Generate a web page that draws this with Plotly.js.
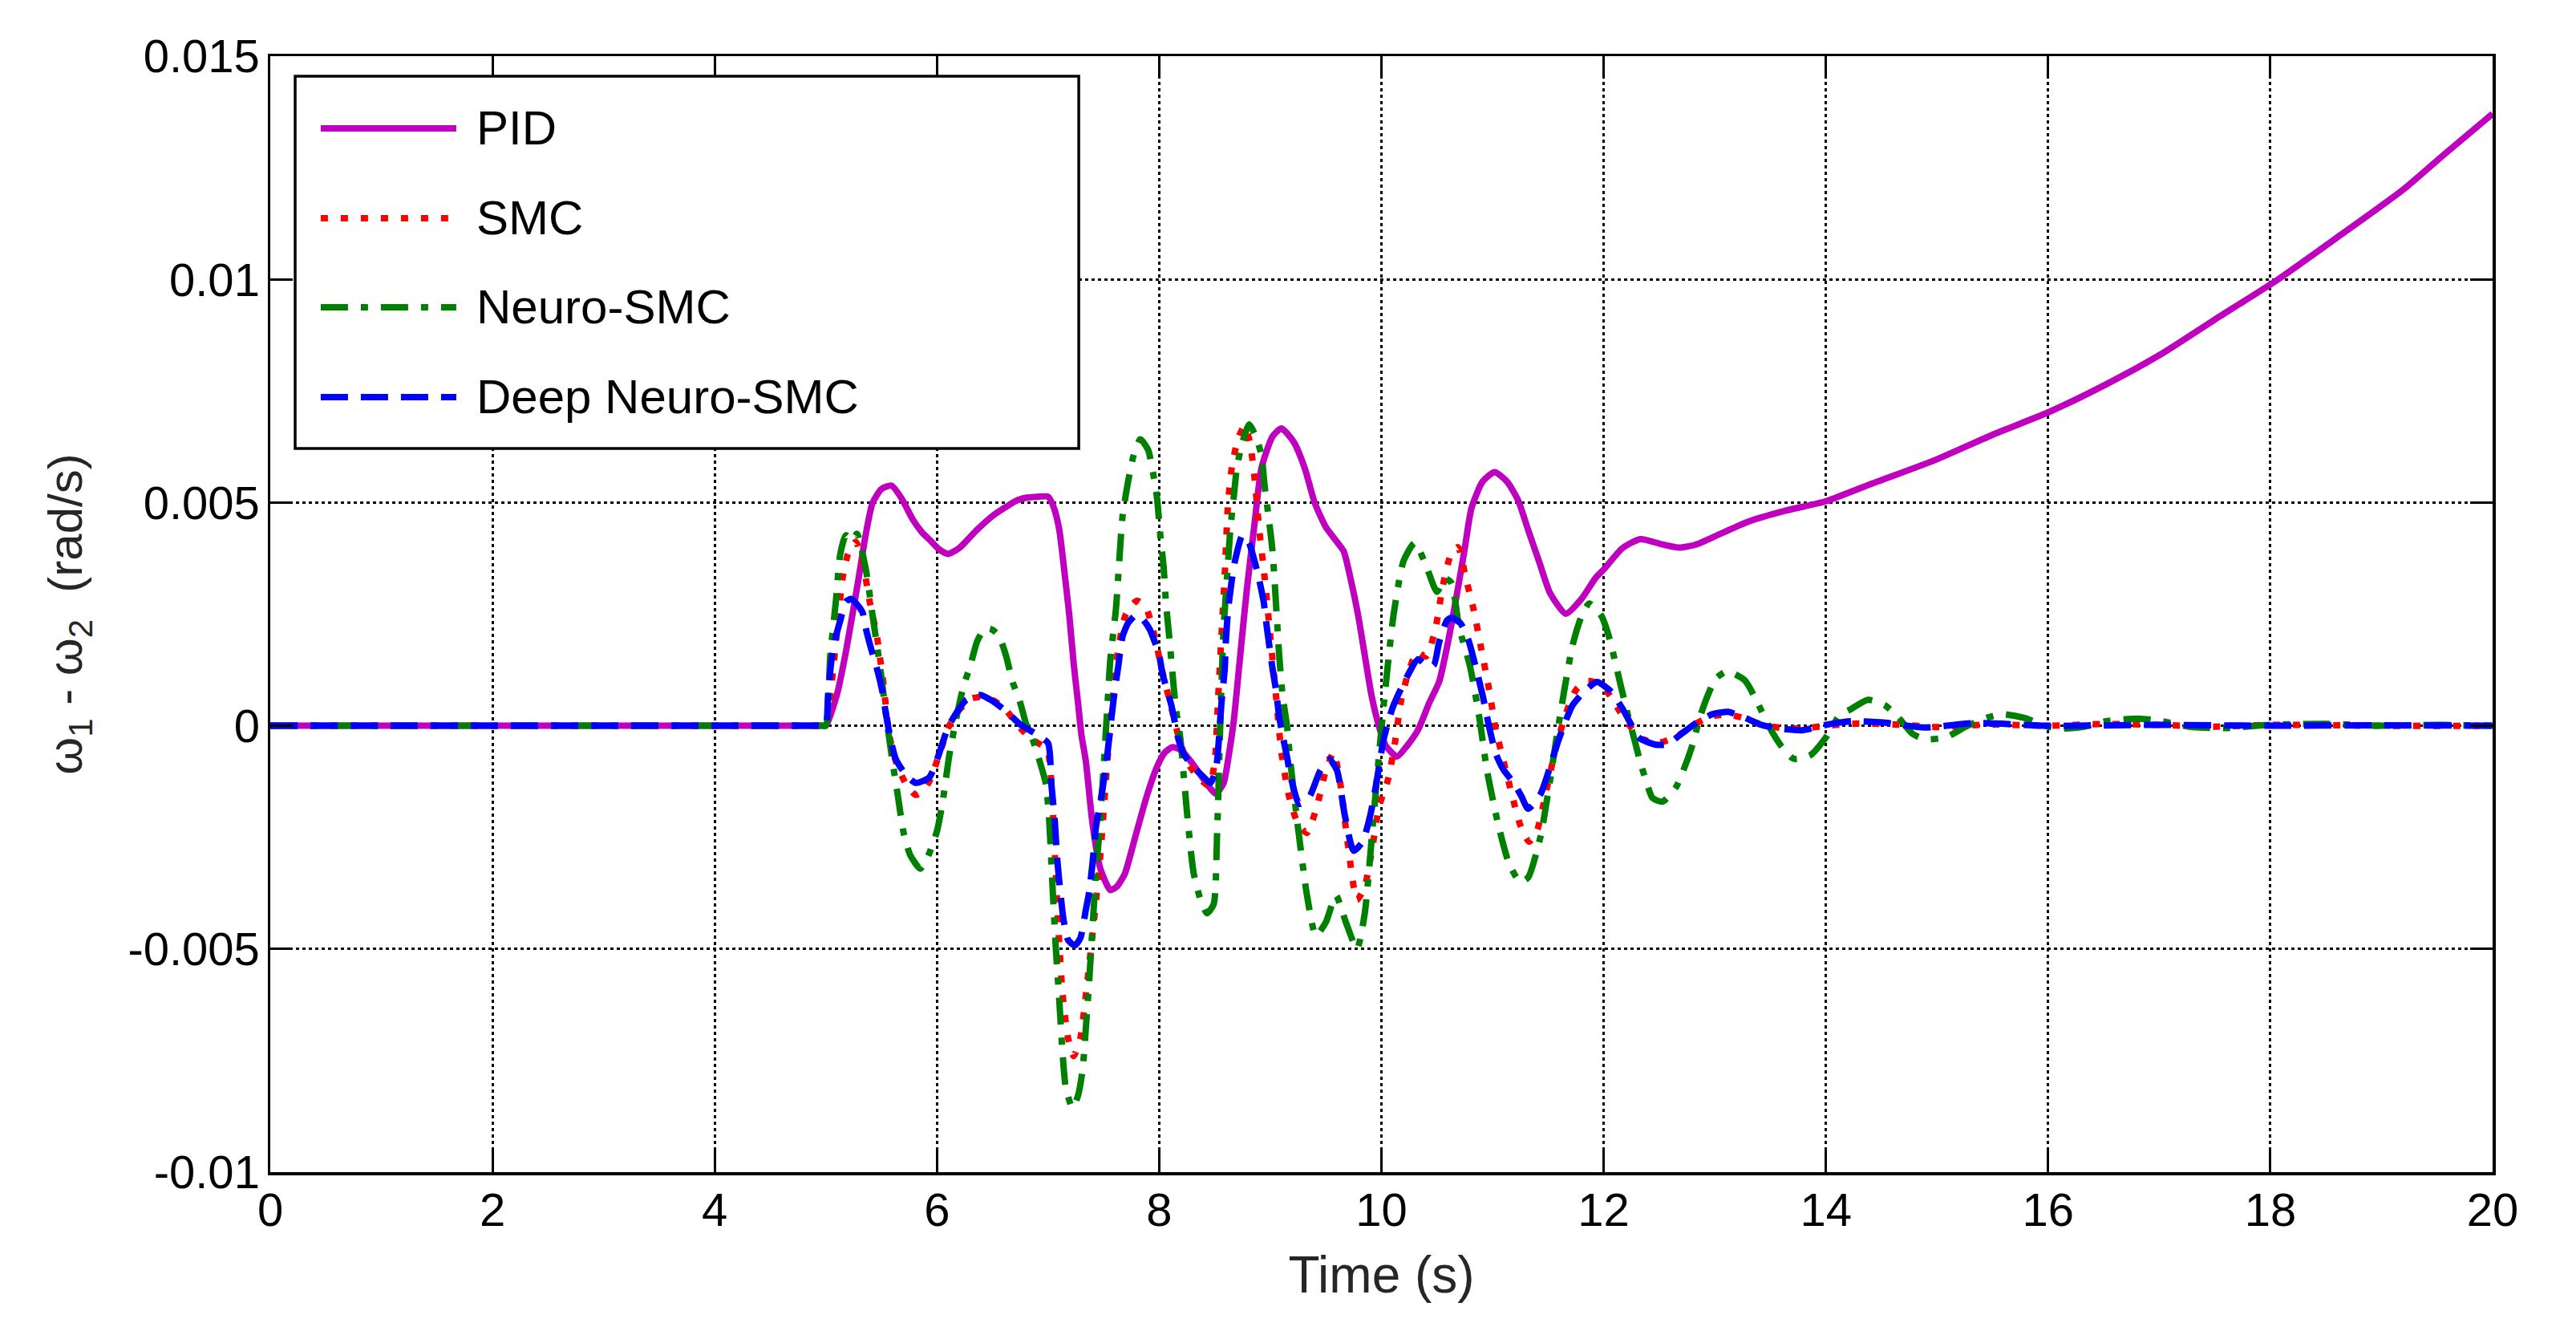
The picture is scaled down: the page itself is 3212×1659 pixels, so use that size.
<!DOCTYPE html>
<html>
<head>
<meta charset="utf-8">
<script src="https://cdn.plot.ly/plotly-3.0.1.min.js"></script>
<style>html,body{margin:0;padding:0;background:#fff;}#chart{width:3212px;height:1659px;}</style>
</head>
<body>
<div id="chart"></div>
<script>
// ---------------- data (time in s, value in rad/s) ----------------
const seriesNames = ['PID', 'SMC', 'Neuro-SMC', 'Deep Neuro-SMC'];

const timePID = [0, 1, 2, 3, 4, 4.9, 4.97, 5.0, 5.1, 5.17, 5.24, 5.3, 5.36, 5.42, 5.5, 5.59,
  5.68, 5.78, 5.86, 5.94, 6.02, 6.1, 6.2, 6.36, 6.5, 6.62,
  6.72, 6.81, 6.9, 7.0, 7.05, 7.1, 7.14, 7.19, 7.23, 7.27,
  7.3, 7.34, 7.4, 7.47, 7.56, 7.62, 7.69, 7.79, 7.89, 7.98,
  8.05, 8.12, 8.2, 8.3, 8.4, 8.51, 8.58, 8.63, 8.67, 8.71,
  8.75, 8.79, 8.86, 8.92, 9.02, 9.1, 9.21, 9.31, 9.4, 9.5,
  9.59, 9.66, 9.72, 9.79, 9.85, 9.91, 9.98, 10.04, 10.14, 10.23,
  10.33, 10.43, 10.52, 10.59, 10.68, 10.75, 10.81, 10.91, 11.02, 11.13,
  11.23, 11.32, 11.42, 11.52, 11.66, 11.8, 11.93, 12.0, 12.17, 12.33,
  12.53, 12.68, 12.83, 13.05, 13.31, 13.64, 14.0, 14.41, 14.97, 15.52,
  16.0, 16.5, 17.0, 17.5, 18.07, 18.63, 19.19, 19.56, 20.0];
const valuePID = [0, 0, 0, 0, 0, 0, 0, 0, 0.7e-3, 1.52e-3, 2.5e-3, 3.38e-3, 4.3e-3, 4.99e-3, 5.3e-3, 5.38e-3,
  5.1e-3, 4.63e-3, 4.35e-3, 4.15e-3, 3.95e-3, 3.85e-3, 3.98e-3, 4.39e-3, 4.7e-3, 4.9e-3,
  5.05e-3, 5.11e-3, 5.13e-3, 5.13e-3, 4.9e-3, 4.4e-3, 3.6e-3, 2.5e-3, 1.4e-3, 0.5e-3,
  -0.2e-3, -0.8e-3, -2.2e-3, -3.2e-3, -3.68e-3, -3.6e-3, -3.32e-3, -2.44e-3, -1.56e-3, -0.92e-3,
  -0.6e-3, -0.48e-3, -0.55e-3, -0.85e-3, -1.2e-3, -1.52e-3, -1.28e-3, -0.6e-3, 0.09e-3, 1.08e-3,
  2.1e-3, 3.08e-3, 4.57e-3, 5.77e-3, 6.48e-3, 6.66e-3, 6.36e-3, 5.77e-3, 4.99e-3, 4.45e-3,
  4.15e-3, 3.91e-3, 3.32e-3, 2.48e-3, 1.58e-3, 0.69e-3, -0.03e-3, -0.45e-3, -0.69e-3, -0.45e-3,
  -0.09e-3, 0.51e-3, 0.99e-3, 1.76e-3, 2.96e-3, 3.97e-3, 4.87e-3, 5.47e-3, 5.68e-3, 5.47e-3,
  5.05e-3, 4.39e-3, 3.67e-3, 2.96e-3, 2.51e-3, 2.84e-3, 3.32e-3, 3.5e-3, 3.98e-3, 4.18e-3,
  4.06e-3, 3.99e-3, 4.06e-3, 4.3e-3, 4.58e-3, 4.82e-3, 5.03e-3, 5.42e-3, 5.94e-3, 6.54e-3,
  7.02e-3, 7.62e-3, 8.3e-3, 9.1e-3, 10.0e-3, 10.99e-3, 12.0e-3, 12.79e-3, 13.71e-3];

const timeSMC = [0, 1, 2, 3, 4, 4.9, 4.97, 5.0, 5.05, 5.1, 5.15, 5.2, 5.27, 5.33, 5.39, 5.46,
  5.52, 5.57, 5.63, 5.72, 5.81, 5.88, 5.94, 6.04, 6.1, 6.2,
  6.3, 6.42, 6.52, 6.62, 6.75, 6.85, 6.95, 7.0, 7.03, 7.06,
  7.09, 7.13, 7.18, 7.23, 7.29, 7.35, 7.42, 7.47, 7.53, 7.58,
  7.63, 7.7, 7.8, 7.88, 7.95, 8.02, 8.1, 8.17, 8.25, 8.35,
  8.45, 8.5, 8.53, 8.56, 8.59, 8.62, 8.66, 8.72, 8.77, 8.82,
  8.86, 8.9, 8.95, 9.0, 9.05, 9.1, 9.17, 9.25, 9.33, 9.42,
  9.5, 9.57, 9.63, 9.7, 9.78, 9.85, 9.92, 9.98, 10.06, 10.12,
  10.18, 10.25, 10.32, 10.4, 10.48, 10.55, 10.62, 10.69, 10.76, 10.83,
  10.9, 10.97, 11.03, 11.1, 11.18, 11.26, 11.33, 11.4, 11.48, 11.56,
  11.65, 11.75, 11.85, 11.95, 12.05, 12.15, 12.25, 12.35, 12.5, 12.65,
  12.8, 12.95, 13.1, 13.25, 13.4, 13.6, 13.8, 14.0, 14.3, 14.7,
  15.0, 15.5, 16.0, 16.5, 17.0, 17.5, 18.0, 19.0, 20.0];
const valueSMC = [0, 0, 0, 0, 0, 0, 0, 0, 0.9e-3, 2.1e-3, 3.3e-3, 3.85e-3, 4.12e-3, 3.7e-3, 2.84e-3, 2.0e-3,
  0.9e-3, -0.2e-3, -0.8e-3, -1.3e-3, -1.55e-3, -1.45e-3, -1.2e-3, -0.5e-3, -0.05e-3, 0.35e-3,
  0.6e-3, 0.65e-3, 0.55e-3, 0.35e-3, -0.05e-3, -0.3e-3, -0.45e-3, -0.6e-3, -1.3e-3, -2.8e-3,
  -4.4e-3, -6.0e-3, -7.0e-3, -7.4e-3, -7.0e-3, -5.8e-3, -4.2e-3, -2.9e-3, -0.9e-3, 0.6e-3,
  1.7e-3, 2.5e-3, 2.8e-3, 2.65e-3, 2.1e-3, 1.3e-3, 0.5e-3, -0.2e-3, -0.8e-3, -1.15e-3,
  -1.35e-3, -0.8e-3, 0.6e-3, 2.0e-3, 3.4e-3, 5.0e-3, 5.9e-3, 6.5e-3, 6.72e-3, 6.3e-3,
  5.5e-3, 4.4e-3, 3.3e-3, 2.0e-3, 0.7e-3, -0.6e-3, -1.6e-3, -2.2e-3, -2.4e-3, -1.8e-3,
  -1.0e-3, -0.6e-3, -1.3e-3, -2.7e-3, -3.9e-3, -3.6e-3, -2.7e-3, -1.8e-3, -1.2e-3, -0.4e-3,
  0.6e-3, 1.25e-3, 1.65e-3, 1.55e-3, 2.1e-3, 3.1e-3, 3.8e-3, 4.0e-3, 3.3e-3, 2.6e-3,
  1.7e-3, 0.8e-3, -0.1e-3, -0.8e-3, -1.6e-3, -2.3e-3, -2.6e-3, -2.35e-3, -1.5e-3, -0.6e-3,
  0.2e-3, 0.8e-3, 1.0e-3, 0.95e-3, 0.7e-3, 0.3e-3, -0.05e-3, -0.3e-3, -0.38e-3, -0.25e-3,
  0, 0.2e-3, 0.25e-3, 0.18e-3, 0.04e-3, -0.05e-3, -0.06e-3, 0, 0.05e-3, 0.02e-3,
  -0.03e-3, 0.03e-3, 0, 0.04e-3, 0.02e-3, -0.02e-3, 0.02e-3, 0, 0];

const timeNeuro = [0, 1, 2, 3, 4, 4.9, 4.97, 5.0, 5.04, 5.09, 5.13, 5.18, 5.23, 5.28, 5.36, 5.42,
  5.49, 5.55, 5.6, 5.65, 5.7, 5.76, 5.85, 5.92, 6.0, 6.05,
  6.11, 6.17, 6.24, 6.3, 6.36, 6.43, 6.5, 6.56, 6.62, 6.68,
  6.75, 6.81, 6.86, 6.92, 6.98, 7.01, 7.04, 7.07, 7.1, 7.13,
  7.16, 7.22, 7.27, 7.31, 7.34, 7.37, 7.4, 7.43, 7.47, 7.5,
  7.53, 7.56, 7.61, 7.64, 7.67, 7.72, 7.77, 7.83, 7.9, 7.95,
  7.98, 8.01, 8.04, 8.06, 8.09, 8.12, 8.15, 8.19, 8.22, 8.26,
  8.31, 8.37, 8.43, 8.49, 8.52, 8.54, 8.56, 8.58, 8.61, 8.64,
  8.67, 8.7, 8.75, 8.81, 8.87, 8.92, 8.95, 8.99, 9.02, 9.05,
  9.08, 9.11, 9.15, 9.18, 9.25, 9.33, 9.41, 9.5, 9.59, 9.68,
  9.78, 9.85, 9.92, 9.98, 10.03, 10.11, 10.2, 10.3, 10.4, 10.5,
  10.57, 10.63, 10.7, 10.8, 10.88, 10.95, 11.05, 11.15, 11.25, 11.32,
  11.43, 11.5, 11.58, 11.65, 11.72, 11.8, 11.87, 11.98, 12.04, 12.09,
  12.15, 12.22, 12.28, 12.33, 12.39, 12.44, 12.53, 12.65, 12.72, 12.79,
  12.87, 12.94, 13.01, 13.11, 13.27, 13.38, 13.49, 13.6, 13.71, 13.86,
  14.0, 14.12, 14.23, 14.38, 14.53, 14.64, 14.78, 14.89, 15.08, 15.26,
  15.45, 15.59, 15.78, 16.0, 16.11, 16.3, 16.52, 16.81, 17.03, 17.3,
  17.6, 18.0, 18.5, 19.0, 19.5, 20.0];
const valueNeuro = [0, 0, 0, 0, 0, 0, 0, 0, 1.58e-3, 2.78e-3, 3.85e-3, 4.27e-3, 4.15e-3, 4.3e-3, 3.5e-3, 2.48e-3,
  1.28e-3, 0.09e-3, -0.8e-3, -1.6e-3, -2.4e-3, -2.9e-3, -3.2e-3, -2.92e-3, -2.36e-3, -1.72e-3,
  -0.68e-3, 0.12e-3, 0.9e-3, 1.34e-3, 1.88e-3, 2.18e-3, 2.15e-3, 2.0e-3, 1.58e-3, 0.99e-3,
  0.51e-3, -0.03e-3, -0.3e-3, -0.76e-3, -1.3e-3, -2.12e-3, -3.6e-3, -5.0e-3, -6.12e-3, -7.32e-3,
  -8.12e-3, -8.56e-3, -8.28e-3, -7.72e-3, -6.76e-3, -5.72e-3, -4.52e-3, -3.32e-3, -2.12e-3, -0.92e-3,
  0.28e-3, 1.48e-3, 2.6e-3, 3.67e-3, 4.69e-3, 5.47e-3, 6.06e-3, 6.42e-3, 6.18e-3, 5.59e-3,
  5.11e-3, 4.27e-3, 3.55e-3, 2.78e-3, 2.0e-3, 1.16e-3, 0.39e-3, -0.27e-3, -1.1e-3, -2.2e-3,
  -3.3e-3, -3.88e-3, -4.2e-3, -4.0e-3, -2.5e-3, -0.8e-3, 0.9e-3, 2.2e-3, 3.3e-3, 4.4e-3,
  5.1e-3, 5.8e-3, 6.36e-3, 6.75e-3, 6.48e-3, 6.06e-3, 5.35e-3, 4.57e-3, 3.91e-3, 2.78e-3,
  1.58e-3, 0.69e-3, 0, -0.8e-3, -2.3e-3, -3.8e-3, -4.7e-3, -4.4e-3, -3.8e-3, -4.4e-3,
  -5.0e-3, -4.2e-3, -2.3e-3, -0.6e-3, 0.7e-3, 2.5e-3, 3.7e-3, 4.1e-3, 3.6e-3, 3.0e-3,
  3.3e-3, 3.2e-3, 2.2e-3, 1.3e-3, 0.2e-3, -1.0e-3, -2.2e-3, -3.1e-3, -3.5e-3, -3.4e-3,
  -2.5e-3, -1.5e-3, -0.2e-3, 0.86e-3, 1.8e-3, 2.45e-3, 2.74e-3, 2.46e-3, 2.06e-3, 1.58e-3,
  0.94e-3, 0.22e-3, -0.34e-3, -0.82e-3, -1.3e-3, -1.62e-3, -1.7e-3, -1.38e-3, -0.98e-3, -0.5e-3,
  0.22e-3, 0.7e-3, 1.06e-3, 1.22e-3, 1.02e-3, 0.54e-3, -0.02e-3, -0.46e-3, -0.74e-3, -0.66e-3,
  -0.26e-3, 0.22e-3, 0.38e-3, 0.58e-3, 0.46e-3, 0.22e-3, -0.18e-3, -0.3e-3, -0.26e-3, -0.02e-3,
  0.18e-3, 0.26e-3, 0.18e-3, -0.02e-3, -0.06e-3, -0.03e-3, 0.1e-3, 0.16e-3, 0.1e-3, -0.03e-3,
  -0.05e-3, 0.02e-3, 0.04e-3, 0, 0.02e-3, 0];

const timeDeep = [0, 1, 2, 3, 4, 4.9, 4.97, 5.0, 5.02, 5.05, 5.09, 5.13, 5.18, 5.23, 5.28, 5.33,
  5.36, 5.41, 5.46, 5.51, 5.54, 5.59, 5.63, 5.72, 5.81, 5.93,
  6.01, 6.1, 6.17, 6.26, 6.39, 6.49, 6.62, 6.75, 6.91, 7.0,
  7.03, 7.06, 7.08, 7.11, 7.14, 7.18, 7.24, 7.29, 7.34, 7.37,
  7.4, 7.43, 7.47, 7.52, 7.56, 7.6, 7.63, 7.67, 7.72, 7.79,
  7.85, 7.91, 7.96, 8.0, 8.03, 8.07, 8.11, 8.14, 8.17, 8.22,
  8.27, 8.31, 8.38, 8.46, 8.51, 8.54, 8.56, 8.59, 8.6, 8.62,
  8.65, 8.68, 8.75, 8.81, 8.86, 8.89, 8.94, 8.97, 9.02, 9.05,
  9.08, 9.11, 9.15, 9.18, 9.26, 9.35, 9.45, 9.53, 9.6, 9.67,
  9.75, 9.83, 9.9, 9.96, 10.02, 10.1, 10.2, 10.33, 10.41, 10.47,
  10.52, 10.59, 10.63, 10.71, 10.78, 10.84, 10.91, 10.97, 11.03, 11.1,
  11.19, 11.26, 11.32, 11.43, 11.5, 11.58, 11.65, 11.72, 11.83, 11.94,
  12.06, 12.17, 12.24, 12.31, 12.46, 12.57, 12.68, 12.83, 12.98, 13.12,
  13.27, 13.42, 13.57, 13.79, 14.0, 14.23, 14.53, 14.89, 15.34, 16.0,
  17.0, 18.0, 19.0, 20.0];
const valueDeep = [0, 0, 0, 0, 0, 0, 0, 0, 0.69e-3, 1.46e-3, 2.0e-3, 2.36e-3, 2.78e-3, 2.84e-3, 2.72e-3, 2.54e-3,
  2.18e-3, 1.7e-3, 1.28e-3, 0.75e-3, 0.27e-3, -0.39e-3, -0.75e-3, -1.1e-3, -1.28e-3, -1.16e-3,
  -0.69e-3, -0.03e-3, 0.27e-3, 0.57e-3, 0.69e-3, 0.57e-3, 0.33e-3, 0.03e-3, -0.21e-3, -0.39e-3,
  -1.32e-3, -2.12e-3, -2.92e-3, -3.72e-3, -4.36e-3, -4.8e-3, -4.92e-3, -4.76e-3, -4.12e-3, -3.72e-3,
  -3.08e-3, -2.28e-3, -1.72e-3, -0.92e-3, -0.05e-3, 0.8e-3, 1.3e-3, 2.0e-3, 2.3e-3, 2.48e-3,
  2.39e-3, 2.18e-3, 1.88e-3, 1.58e-3, 1.16e-3, 0.81e-3, 0.45e-3, 0.09e-3, -0.27e-3, -0.63e-3,
  -0.81e-3, -0.93e-3, -1.1e-3, -1.28e-3, -0.99e-3, -0.21e-3, 0.5e-3, 1.28e-3, 1.9e-3, 2.6e-3,
  3.2e-3, 3.67e-3, 4.27e-3, 4.09e-3, 3.67e-3, 3.38e-3, 2.78e-3, 2.18e-3, 1.28e-3, 0.81e-3,
  0.21e-3, -0.21e-3, -0.69e-3, -1.1e-3, -1.75e-3, -1.6e-3, -1.0e-3, -0.75e-3, -1.0e-3, -2.0e-3,
  -2.8e-3, -2.6e-3, -2.0e-3, -1.2e-3, -0.3e-3, 0.4e-3, 0.95e-3, 1.49e-3, 1.34e-3, 1.35e-3,
  1.88e-3, 2.36e-3, 2.42e-3, 2.3e-3, 1.94e-3, 1.4e-3, 0.69e-3, -0.03e-3, -0.63e-3, -0.99e-3,
  -1.28e-3, -1.58e-3, -1.86e-3, -1.54e-3, -1.06e-3, -0.42e-3, 0.06e-3, 0.46e-3, 0.78e-3, 0.98e-3,
  0.78e-3, 0.38e-3, 0.06e-3, -0.26e-3, -0.42e-3, -0.42e-3, -0.22e-3, 0.06e-3, 0.26e-3, 0.31e-3,
  0.18e-3, 0.02e-3, -0.06e-3, -0.1e-3, 0.02e-3, 0.1e-3, 0.07e-3, -0.04e-3, 0.06e-3, 0,
  0.02e-3, 0, 0.01e-3, 0];

const xTickVals = [0, 2, 4, 6, 8, 10, 12, 14, 16, 18, 20];
const xTickText = ['0', '2', '4', '6', '8', '10', '12', '14', '16', '18', '20'];
const yTickVals = [-0.01, -0.005, 0, 0.005, 0.01, 0.015];
const yTickText = ['-0.01', '-0.005', '0', '0.005', '0.01', '0.015'];

// ---------------- styles ----------------
const FONT = '"Liberation Sans", Arial, Helvetica, sans-serif';
const seriesColors = ['#BF00BF', '#FF0000', '#008000', '#0000FF'];
const seriesDash = ['solid', '9px,16px', '34px,16px,9px,16px', '34px,16px'];
const LW = 8;

const seriesX = [timePID, timeSMC, timeNeuro, timeDeep];
const seriesY = [valuePID, valueSMC, valueNeuro, valueDeep];

const traces = seriesNames.map((name, i) => ({
  type: 'scatter', mode: 'lines', name: name,
  x: seriesX[i], y: seriesY[i],
  line: {color: seriesColors[i], width: LW, dash: seriesDash[i], shape: 'spline', smoothing: 0.6},
  showlegend: false, hoverinfo: 'skip'
}));

// manual MATLAB-style legend (paper coordinates)
const legBox = {x0: 0.0112, x1: 0.3638, y0: 0.6485, y1: 0.9820};
const legRowsY = [0.9353, 0.8548, 0.7750, 0.6945];
const legLineX = [0.0227, 0.0837];
const legTextX = 0.0920;

const shapes = [{
  type: 'rect', xref: 'paper', yref: 'paper', layer: 'above',
  x0: legBox.x0, x1: legBox.x1, y0: legBox.y0, y1: legBox.y1,
  fillcolor: '#ffffff', line: {color: '#000000', width: 3.5}
}];
const annotations = [];
seriesNames.forEach((name, i) => {
  shapes.push({
    type: 'line', xref: 'paper', yref: 'paper', layer: 'above',
    x0: legLineX[0], x1: legLineX[1], y0: legRowsY[i], y1: legRowsY[i],
    line: {color: seriesColors[i], width: LW, dash: seriesDash[i]}
  });
  annotations.push({
    xref: 'paper', yref: 'paper', x: legTextX, y: legRowsY[i],
    xanchor: 'left', yanchor: 'middle', showarrow: false,
    text: name, font: {family: FONT, size: 60, color: '#000000'}
  });
});

const axisCommon = {
  tickmode: 'array', ticks: 'inside', ticklen: 28, tickwidth: 3, tickcolor: '#000000',
  showline: true, linecolor: '#000000', linewidth: 3.5, mirror: 'ticks',
  showgrid: true, gridcolor: '#000000', gridwidth: 3, griddash: '4px,4px',
  zeroline: false, fixedrange: true,
  tickfont: {family: FONT, size: 58, color: '#000000'}
};

const NB = '\u00a0';
const layout = {
  width: 3212, height: 1659,
  margin: {l: 337, r: 104, t: 70, b: 198, pad: 0},
  paper_bgcolor: '#ffffff', plot_bgcolor: '#ffffff',
  font: {family: FONT, size: 58, color: '#000000'},
  showlegend: false,
  xaxis: Object.assign({}, axisCommon, {
    range: [0, 20], tickvals: xTickVals, ticktext: xTickText,
    ticklabelstandoff: -6,
    title: {text: 'Time (s)', font: {family: FONT, size: 64, color: '#262626'}, standoff: 28}
  }),
  yaxis: Object.assign({}, axisCommon, {
    range: [-0.01, 0.015], tickvals: yTickVals, ticktext: yTickText,
    ticklabelstandoff: -2,
    title: {text: NB + NB + NB + NB + NB + NB + '\u03c9<sub>1</sub> - \u03c9<sub>2</sub>' + NB + NB + '(rad/s)', font: {family: FONT, size: 60, color: '#262626'}, standoff: 38}
  }),
  shapes: shapes,
  annotations: annotations
};

Plotly.newPlot('chart', traces, layout, {staticPlot: true, displayModeBar: false});
</script>
</body>
</html>
